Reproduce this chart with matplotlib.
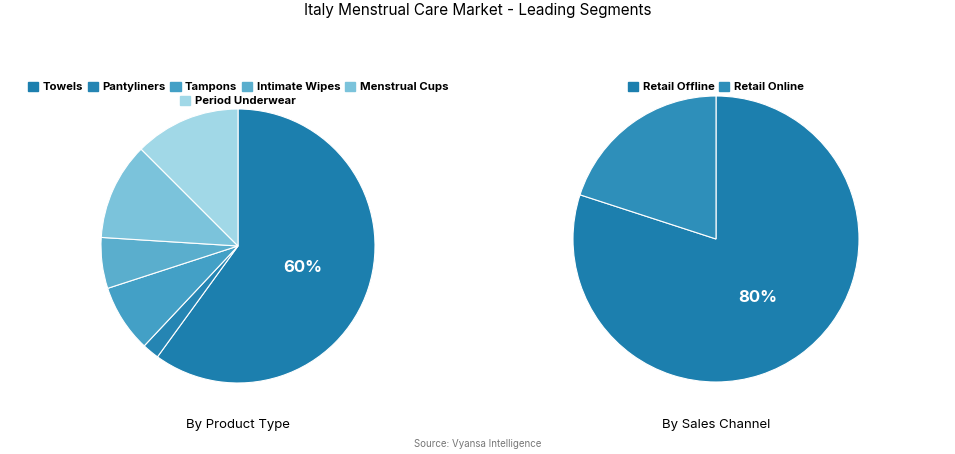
import matplotlib
matplotlib.use("Agg")
import matplotlib.pyplot as plt
from matplotlib.patches import Patch

plt.rcParams['font.family'] = ['Inter', 'DejaVu Sans']

prod_labels = ["Towels", "Pantyliners", "Tampons", "Intimate Wipes", "Menstrual Cups", "Period Underwear"]
prod_values = [60, 2, 8, 6, 11.5, 12.5]
prod_colors = ["#1c7fae", "#2585b3", "#43a0c6", "#5aaecd", "#7bc3db", "#a1d8e7"]

chan_labels = ["Retail Offline", "Retail Online"]
chan_values = [80, 20]
chan_colors = ["#1c7fae", "#2e8fba"]

fig = plt.figure(figsize=(9.55, 4.54), dpi=100)
W, H = 955, 454

def draw(cx, cy, r, vals, cols, labels, title, legend_y, ncol_rows, pct_pos):
    ax = fig.add_axes([(cx - r) / W, 1 - (cy + r) / H, 2 * r / W, 2 * r / H])
    ax.pie(vals, colors=cols, startangle=90, counterclock=False,
           wedgeprops=dict(edgecolor="white", linewidth=0.8), radius=1)
    ax.set_xlim(-1, 1); ax.set_ylim(-1, 1); ax.set_aspect('equal'); ax.axis('off')
    ax.text(pct_pos[0], pct_pos[1], f"{vals[0]:.0f}%", ha='center', va='center',
            color='white', fontsize=12, fontweight='bold')
    fig.text(cx / W, 1 - 425 / H, title, ha='center', va='center', fontsize=9.5)
    for row, y in zip(ncol_rows, legend_y):
        handles = [Patch(color=cols[j]) for j in row]
        fig.legend(handles, [labels[j] for j in row], loc='center',
                   bbox_to_anchor=(cx / W, 1 - y / H), ncol=len(row), frameon=False,
                   handlelength=0.9, handleheight=0.9, handletextpad=0.4, columnspacing=0.4,
                   prop=dict(size=8.2, weight='bold'))

draw(238, 246, 137, prod_values, prod_colors, prod_labels, "By Product Type",
     [87, 101], [[0, 1, 2, 3, 4], [5]], (0.47, -0.16))
draw(716, 239, 143, chan_values, chan_colors, chan_labels, "By Sales Channel",
     [87], [[0, 1]], (0.29, -0.41))

fig.text(0.5, 1 - 10 / H, "Italy Menstrual Care Market - Leading Segments", ha='center', va='center', fontsize=11)
fig.text(0.5, 1 - 444 / H, "Source: Vyansa Intelligence", ha='center', va='center', fontsize=7, color='#777777')
fig.savefig("out.png", dpi=100)
